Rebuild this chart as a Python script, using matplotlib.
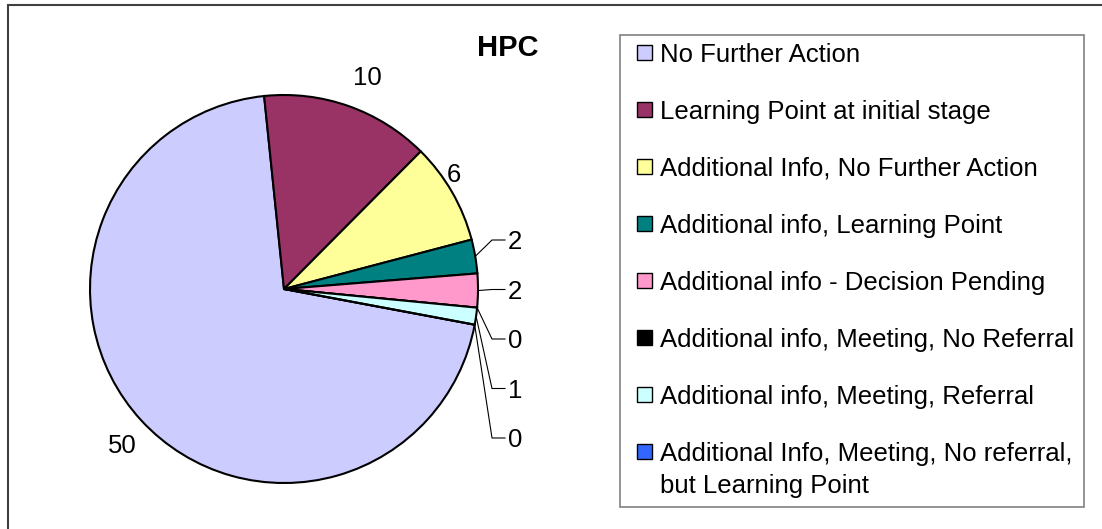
import numpy as np
import matplotlib
matplotlib.use('Agg')
from matplotlib import pyplot as plt
from matplotlib.patches import Rectangle

plt.rcParams['font.family'] = ['Liberation Sans', 'DejaVu Sans']

# Chart data
categories = ['No Further Action',
              'Learning Point at initial stage',
              'Additional Info, No Further Action',
              'Additional info, Learning Point',
              'Additional info - Decision Pending',
              'Additional info, Meeting, No Referral',
              'Additional info, Meeting, Referral',
              'Additional Info, Meeting, No referral,\nbut Learning Point']
counts = [50, 10, 6, 2, 2, 0, 1, 0]
colors = ['#CCCCFF', '#993366', '#FFFF99', '#008080',
          '#FF99CC', '#000000', '#CCFFFF', '#3366FF']
title = 'HPC'

# Figure in pixel coordinates (y up)
W, H = 1102, 529
fig = plt.figure(figsize=(W / 100, H / 100), dpi=100)
ax = fig.add_axes([0, 0, 1, 1])

cx, cy, r = 284, H - 289, 194
wedges, _ = ax.pie(counts, colors=colors, startangle=-10.6, counterclock=False,
                   center=(cx, cy), radius=r,
                   wedgeprops=dict(edgecolor='black', linewidth=1.5))
ax.set_xlim(0, W)
ax.set_ylim(0, H)
ax.axis('off')

fs = 18.5
cap = 0.716 * fs * 100 / 72  # cap height in px

# data labels
# big slices: (distance in radii, clockwise angle nudge in degrees)
label_pos = [(1.155, -1.0), (1.18, 2.0), (1.06, -4.5)]
stack_top = 240      # small slices, labels stacked with leader lines
stack_step = 49.5
k = 0
for i, w in enumerate(wedges):
    mid = (w.theta1 + w.theta2) / 2
    if i < len(label_pos):
        dist, nudge = label_pos[i]
        a = np.deg2rad(mid - nudge)
        lx, ly = cx + dist * r * np.cos(a), cy + dist * r * np.sin(a)
        ax.text(lx, ly - cap / 2, str(counts[i]), fontsize=fs,
                ha='center', va='baseline')
    else:
        a = np.deg2rad(mid)
        px, py = cx + r * np.cos(a), cy + r * np.sin(a)
        ly = H - (stack_top + k * stack_step)
        ax.plot([px, 492, 505], [py, ly, ly], color='black', lw=0.8)
        ax.text(508, ly - cap / 2, str(counts[i]), fontsize=fs,
                ha='left', va='baseline')
        k += 1

# title
ax.text(507.5, H - 45.5 - 0.716 * 21 * 100 / 72 / 2, title, fontsize=21,
        fontweight='bold', ha='center', va='baseline')

# legend box drawn by hand
ax.add_patch(Rectangle((620, H - 507), 464, 472, fill=False,
                       edgecolor='#808080', lw=1.2))
for i, (lab, col) in enumerate(zip(categories, colors)):
    yc = H - (52.7 + 57 * i)
    ax.add_patch(Rectangle((637, yc - 7.5), 15, 15, facecolor=col,
                           edgecolor='black', lw=1))
    for j, line in enumerate(lab.split('\n')):
        ax.text(660, yc - cap / 2 - 32 * j, line, fontsize=fs,
                ha='left', va='baseline')

# outer chart frame (only top and left edges fall inside the image)
ax.add_patch(Rectangle((8, -20), 1200, H - 5 + 20, fill=False,
                       edgecolor='#404040', lw=1.5))

fig.savefig('out.png', dpi=100)
